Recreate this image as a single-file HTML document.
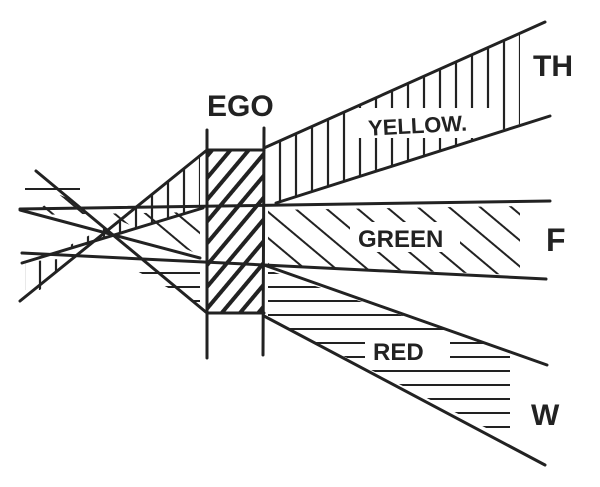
<!DOCTYPE html>
<html><head><meta charset="utf-8"><style>
html,body{margin:0;padding:0;background:#fff;}
svg{display:block}
text{font-family:"Liberation Sans",sans-serif;font-weight:bold;fill:#222}
</style></head><body>
<svg width="600" height="487" viewBox="0 0 600 487" xmlns="http://www.w3.org/2000/svg">
<defs>
<pattern id="vert" width="16" height="10" patternUnits="userSpaceOnUse"><line x1="8" y1="0" x2="8" y2="10" stroke="#222" stroke-width="2.2"/></pattern>
<pattern id="diag" width="20" height="20" patternUnits="userSpaceOnUse" patternTransform="rotate(40)"><line x1="0" y1="10" x2="20" y2="10" stroke="#222" stroke-width="2"/></pattern>
<pattern id="horiz" width="40" height="14" patternUnits="userSpaceOnUse"><line x1="0" y1="7" x2="40" y2="7" stroke="#222" stroke-width="2"/></pattern>
<pattern id="fw" width="14" height="14" patternUnits="userSpaceOnUse" patternTransform="rotate(-50)"><line x1="0" y1="7" x2="14" y2="7" stroke="#222" stroke-width="4"/></pattern>
</defs>
<g>
<polygon points="264,148 520,33 520,124 276,203 264,206" fill="url(#vert)"/>
<polygon points="268,210 520,206 520,275 268,265" fill="url(#diag)"/>
<polygon points="268,270 510,352 510,440 268,318" fill="url(#horiz)"/>
<polygon points="207,150 264,150 264,313 207,313" fill="url(#fw)"/>
<polygon points="200,156 120,220 60,250 200,208" fill="url(#vert)"/>
<polygon points="60,195 200,255 200,212 30,215" fill="url(#diag)"/>
<polygon points="120,262 200,266 200,305" fill="url(#horiz)"/>
<polygon points="25,178 80,178 80,200 25,200" fill="url(#horiz)"/>
<polygon points="25,262 70,258 40,290 25,290" fill="url(#vert)"/>
</g>
<rect x="355" y="108" width="140" height="30" fill="#fff"/>
<rect x="350" y="222" width="110" height="30" fill="#fff"/>
<rect x="365" y="336" width="85" height="28" fill="#fff"/>
<g stroke="#222" stroke-width="3" fill="none" stroke-linecap="round">
<line x1="207" y1="130" x2="207" y2="358"/>
<line x1="264" y1="128" x2="263" y2="355"/>
<line x1="207" y1="150" x2="264" y2="150"/>
<line x1="207" y1="313" x2="264" y2="313"/>
<line x1="264" y1="148" x2="545" y2="22"/>
<line x1="276" y1="203" x2="550" y2="116"/>
<line x1="20" y1="209" x2="550" y2="201"/>
<line x1="22" y1="253" x2="264" y2="265"/>
<line x1="264" y1="265" x2="546" y2="279"/>
<line x1="264" y1="265" x2="547" y2="365"/>
<line x1="264" y1="316" x2="545" y2="465"/>
<line x1="207" y1="150" x2="20" y2="301"/>
<line x1="36" y1="171" x2="207" y2="313"/>
<line x1="22" y1="263" x2="203" y2="208"/>
<line x1="20" y1="210" x2="200" y2="258"/>
</g>
<text x="207" y="116" font-size="30">EGO</text>
<text x="533" y="76" font-size="30">TH</text>
<text x="368" y="133" font-size="22" transform="rotate(-3 420 125)">YELLOW.</text>
<text x="358" y="247" font-size="24">GREEN</text>
<text x="546" y="251" font-size="32">F</text>
<text x="373" y="360" font-size="24">RED</text>
<text x="531" y="425" font-size="30">W</text>
</svg>
</body></html>
